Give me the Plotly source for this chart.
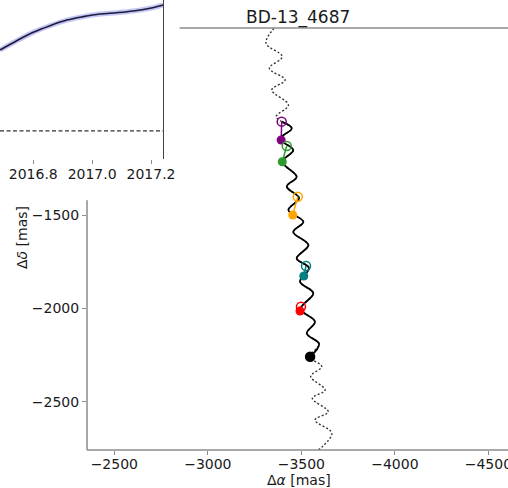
import plotly.graph_objects as go

# ---- astrometric track of BD-13_4687 (mas) ----
track_ra = [-3354, -3311, -3398, -3329, -3413, -3342, -3431, -3365, -3395,
            -3449, -3386, -3457, -3398, -3475, -3422, -3488, -3431, -3511,
            -3457, -3538, -3475, -3541, -3493, -3564, -3496, -3573, -3529,
            -3595, -3547, -3609, -3550, -3627, -3559, -3644, -3573, -3663,
            -3591]
track_dec = [-500, -580, -652, -714, -777, -830, -911, -973, -1000,
             -1036, -1093, -1152, -1215, -1295, -1348, -1409, -1473, -1536,
             -1591, -1661, -1732, -1784, -1857, -1919, -2003, -2071, -2134,
             -2191, -2259, -2312, -2365, -2437, -2482, -2554, -2598, -2669,
             -2759]
# observed window: from first to last epoch along the track
obs_start = 8
obs_end = 28

# ---- epochs: open = measured, filled = model ----
epoch_colors = ["purple", "#2e9a2e", "orange", "teal", "red", "black"]
meas_ra = [-3395, -3422, -3481, -3525, -3498, -3547]
meas_dec = [-1000, -1130, -1402, -1773, -1991, -2259]
model_ra = [-3392, -3398, -3454, -3513, -3493, -3547]
model_dec = [-1098, -1215, -1500, -1827, -2014, -2259]

# ---- time-series panel ----
ts_time = [2016.687, 2016.744, 2016.800, 2016.857, 2016.914, 2016.970,
           2017.027, 2017.084, 2017.140, 2017.197, 2017.242]
ts_signal = [0.618, 0.689, 0.753, 0.804, 0.847, 0.873, 0.893, 0.903,
             0.916, 0.937, 0.962]
ts_baseline = 0.0

ra_ticks = [-2500, -3000, -3500, -4000, -4500]
dec_ticks = [-1500, -2000, -2500]
time_ticks = [2016.8, 2017.0, 2017.2]


def fmt(v):
    return str(v).replace("-", "\u2212")


FONT = "DejaVu Sans"
SPINE = "#8c8c8c"
W, H = 508, 488

fig = go.Figure()

# full model track (dotted) and observed portion (solid)
fig.add_trace(go.Scatter(
    x=track_ra, y=track_dec, mode="lines",
    line=dict(color="#333333", width=1.4, dash="2px,2px", shape="spline"),
    xaxis="x", yaxis="y", hoverinfo="skip"))
fig.add_trace(go.Scatter(
    x=track_ra[obs_start:obs_end + 1], y=track_dec[obs_start:obs_end + 1],
    mode="lines",
    line=dict(color="black", width=1.8, shape="spline"),
    xaxis="x", yaxis="y", hoverinfo="skip"))

for c, mx, my, fx, fy in zip(epoch_colors, meas_ra, meas_dec, model_ra, model_dec):
    fig.add_trace(go.Scatter(
        x=[mx, fx], y=[my, fy], mode="lines",
        line=dict(color=c, width=1.5), xaxis="x", yaxis="y"))
    fig.add_trace(go.Scatter(
        x=[mx], y=[my], mode="markers",
        marker=dict(symbol="circle-open", size=9, color=c, line=dict(width=1.5)),
        xaxis="x", yaxis="y"))
    fig.add_trace(go.Scatter(
        x=[fx], y=[fy], mode="markers",
        marker=dict(symbol="circle", size=9, color=c),
        xaxis="x", yaxis="y"))

# time-series panel
fig.add_trace(go.Scatter(
    x=ts_time, y=ts_signal, mode="lines",
    line=dict(color="rgba(90,90,230,0.35)", width=5, shape="spline"),
    xaxis="x2", yaxis="y2"))
fig.add_trace(go.Scatter(
    x=ts_time, y=ts_signal, mode="lines",
    line=dict(color="#1b1b3a", width=1.6, shape="spline"),
    xaxis="x2", yaxis="y2"))
fig.add_trace(go.Scatter(
    x=[ts_time[0], ts_time[-1]], y=[ts_baseline, ts_baseline], mode="lines",
    line=dict(color="#333333", width=1.3, dash="4px,2.5px"),
    xaxis="x2", yaxis="y2"))

tickfont = dict(family=FONT, size=14, color="#1a1a1a")

fig.update_layout(
    width=W, height=H, autosize=False,
    margin=dict(l=0, r=0, t=0, b=0, autoexpand=False),
    paper_bgcolor="white", plot_bgcolor="rgba(0,0,0,0)",
    showlegend=False,
    font=dict(family=FONT, size=14, color="#1a1a1a"),
    xaxis=dict(
        domain=[87 / W, 1.0], anchor="y",
        range=[-2354, -4605],
        tickvals=ra_ticks, ticktext=[fmt(v) for v in ra_ticks],
        ticks="outside", ticklen=4, tickwidth=1.2, tickcolor=SPINE,
        ticklabelstandoff=-3, ticklabeloverflow="allow", automargin=False,
        showline=False, showgrid=False, zeroline=False, tickfont=tickfont),
    yaxis=dict(
        domain=[38 / H, 460 / H], anchor="x",
        range=[-2758.7, -498.4],
        tickvals=dec_ticks, ticktext=[fmt(v) for v in dec_ticks],
        ticks="outside", ticklen=4, tickwidth=1.2, tickcolor=SPINE,
        automargin=False,
        showline=False, showgrid=False, zeroline=False, tickfont=tickfont),
    xaxis2=dict(
        domain=[0, 163.3 / W], anchor="y2",
        range=[2016.687, 2017.2418],
        tickvals=time_ticks, ticktext=["%.1f" % v for v in time_ticks],
        ticks="outside", ticklen=4, tickwidth=1.2, tickcolor=SPINE,
        ticklabelstandoff=-2, automargin=False,
        showline=False, showgrid=False, zeroline=False, tickfont=tickfont),
    yaxis2=dict(
        domain=[(H - 159) / H, 1.0], anchor="x2", side="right",
        range=[-0.214, 1.0], automargin=False,
        showticklabels=False, ticks="",
        showline=True, linecolor="#444444", linewidth=1.2,
        showgrid=False, zeroline=False),
)

# frame of the track panel
spine = dict(color=SPINE, width=1.5)
fig.add_shape(type="line", xref="x domain", yref="y domain",
              x0=0, x1=1, y0=0, y1=0, line=spine)
fig.add_shape(type="line", xref="x domain", yref="y domain",
              x0=0, x1=0, y0=0, y1=0.592, line=spine)
fig.add_shape(type="line", xref="x domain", yref="y domain",
              x0=0.22, x1=1, y0=1, y1=1, line=spine)

fig.add_annotation(text="BD-13_4687", xref="paper", yref="paper",
                   x=298 / W, y=1 - 17 / H, xanchor="center", yanchor="middle",
                   showarrow=False, font=dict(family=FONT, size=17, color="#1a1a1a"))
fig.add_annotation(text="Δ<i>α</i> [mas]", xref="paper", yref="paper",
                   x=299 / W, y=1 - 480 / H, xanchor="center", yanchor="middle",
                   showarrow=False, font=dict(family=FONT, size=14, color="#1a1a1a"))
fig.add_annotation(text="Δ<i>δ</i> [mas]", xref="paper", yref="paper",
                   x=22 / W, y=1 - 238 / H, xanchor="center", yanchor="middle",
                   textangle=-90, showarrow=False,
                   font=dict(family=FONT, size=14, color="#1a1a1a"))

fig.write_html("out.html", config={"responsive": False})
